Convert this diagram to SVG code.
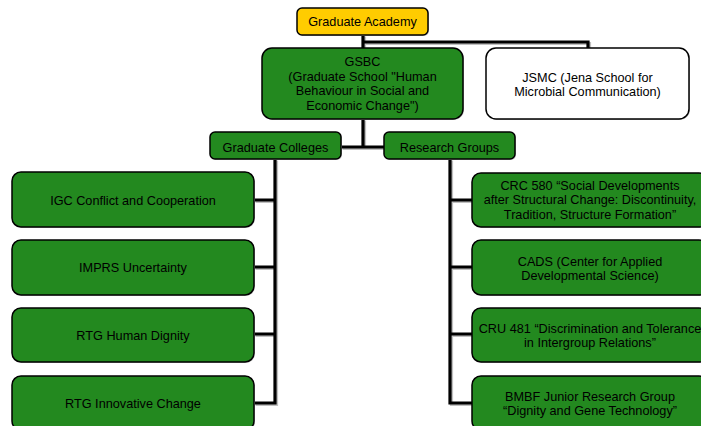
<svg xmlns="http://www.w3.org/2000/svg" width="701" height="426" viewBox="0 0 701 426">
<style>
.box{stroke:#000;stroke-width:1.5}
.g{fill:#23891f}
.w{fill:#fff}
.y{fill:#ffcc00}
.sh{fill:#c8c8c8}
.t{font-family:"Liberation Sans",Arial,sans-serif;font-size:12.7px;fill:#000;text-anchor:middle}
.c{fill:none;stroke:#000;stroke-width:3.2;stroke-linejoin:miter}
.cs{fill:none;stroke:#c0c0c0;stroke-width:3.2}
</style>
<rect width="701" height="426" fill="#fff"/>
<g id="connectors">
<g transform="translate(1.5,1.5)">
<path class="cs" d="M363 35V48M363 42H588V48M363 119V147M341 147H384M275 159V403H254M275 200H254M275 267H254M275 334H254M450 159V403H472M450 200H472M450 267H472M450 334H472"/>
</g>
<path class="c" d="M363 35V48M363 42H588V48M363 119V147M341 147H384M275 159V403H254M275 200H254M275 267H254M275 334H254M450 159V403H472M450 200H472M450 267H472M450 334H472"/>
</g>
<g id="graduate-academy">
<rect class="sh" x="298" y="9" width="131" height="27" rx="5"/>
<rect class="box y" x="297" y="8" width="131" height="27" rx="5"/>
<text class="t" x="362.5" y="26">Graduate Academy</text>
</g>
<g id="gsbc">
<rect class="sh" x="263" y="49" width="201" height="71" rx="10"/>
<rect class="box g" x="262" y="48" width="201" height="71" rx="10"/>
<text class="t" x="362.5" y="66">GSBC</text>
<text class="t" x="362.5" y="80.7">(Graduate School "Human</text>
<text class="t" x="362.5" y="95.4">Behaviour in Social and</text>
<text class="t" x="362.5" y="110.1">Economic Change")</text>
</g>
<g id="jsmc">
<rect class="sh" x="487" y="49" width="203" height="71" rx="10"/>
<rect class="box w" x="486" y="48" width="203" height="71" rx="10"/>
<text class="t" x="587.5" y="81.5">JSMC (Jena School for</text>
<text class="t" x="587.5" y="96.2">Microbial Communication)</text>
</g>
<g id="graduate-colleges">
<rect class="sh" x="211" y="133" width="131" height="27" rx="5"/>
<rect class="box g" x="210" y="132" width="131" height="27" rx="5"/>
<text class="t" x="275.5" y="151.5">Graduate Colleges</text>
</g>
<g id="research-groups">
<rect class="sh" x="385" y="133" width="131" height="27" rx="5"/>
<rect class="box g" x="384" y="132" width="131" height="27" rx="5"/>
<text class="t" x="449.5" y="151.5">Research Groups</text>
</g>
<g id="igc">
<rect class="sh" x="13" y="173" width="242" height="55" rx="9"/>
<rect class="box g" x="12" y="172" width="242" height="55" rx="9"/>
<text class="t" x="133" y="204.5">IGC Conflict and Cooperation</text>
</g>
<g id="imprs">
<rect class="sh" x="13" y="241" width="242" height="55" rx="9"/>
<rect class="box g" x="12" y="240" width="242" height="55" rx="9"/>
<text class="t" x="133" y="272">IMPRS Uncertainty</text>
</g>
<g id="rtg-human-dignity">
<rect class="sh" x="13" y="309" width="242" height="54" rx="9"/>
<rect class="box g" x="12" y="308" width="242" height="54" rx="9"/>
<text class="t" x="133" y="339.5">RTG Human Dignity</text>
</g>
<g id="rtg-innovative-change">
<rect class="sh" x="13" y="377" width="242" height="54" rx="9"/>
<rect class="box g" x="12" y="376" width="242" height="54" rx="9"/>
<text class="t" x="133" y="407.5">RTG Innovative Change</text>
</g>
<g id="crc580">
<rect class="sh" x="473" y="174" width="236" height="54" rx="9"/>
<rect class="box g" x="472" y="173" width="236" height="54" rx="9"/>
<text class="t" x="590" y="189.5">CRC 580 “Social Developments</text>
<text class="t" x="590" y="204.2">after Structural Change: Discontinuity,</text>
<text class="t" x="590" y="218.9">Tradition, Structure Formation”</text>
</g>
<g id="cads">
<rect class="sh" x="473" y="241" width="236" height="55" rx="9"/>
<rect class="box g" x="472" y="240" width="236" height="55" rx="9"/>
<text class="t" x="590" y="265.5">CADS (Center for Applied</text>
<text class="t" x="590" y="280.2">Developmental Science)</text>
</g>
<g id="cru481">
<rect class="sh" x="473" y="309" width="236" height="54" rx="9"/>
<rect class="box g" x="472" y="308" width="236" height="54" rx="9"/>
<text class="t" x="590" y="332.5">CRU 481 “Discrimination and Tolerance</text>
<text class="t" x="590" y="347.2">in Intergroup Relations”</text>
</g>
<g id="bmbf">
<rect class="sh" x="473" y="377" width="236" height="54" rx="9"/>
<rect class="box g" x="472" y="376" width="236" height="54" rx="9"/>
<text class="t" x="590" y="400.5">BMBF Junior Research Group</text>
<text class="t" x="590" y="415.2">“Dignity and Gene Technology”</text>
</g>
</svg>
